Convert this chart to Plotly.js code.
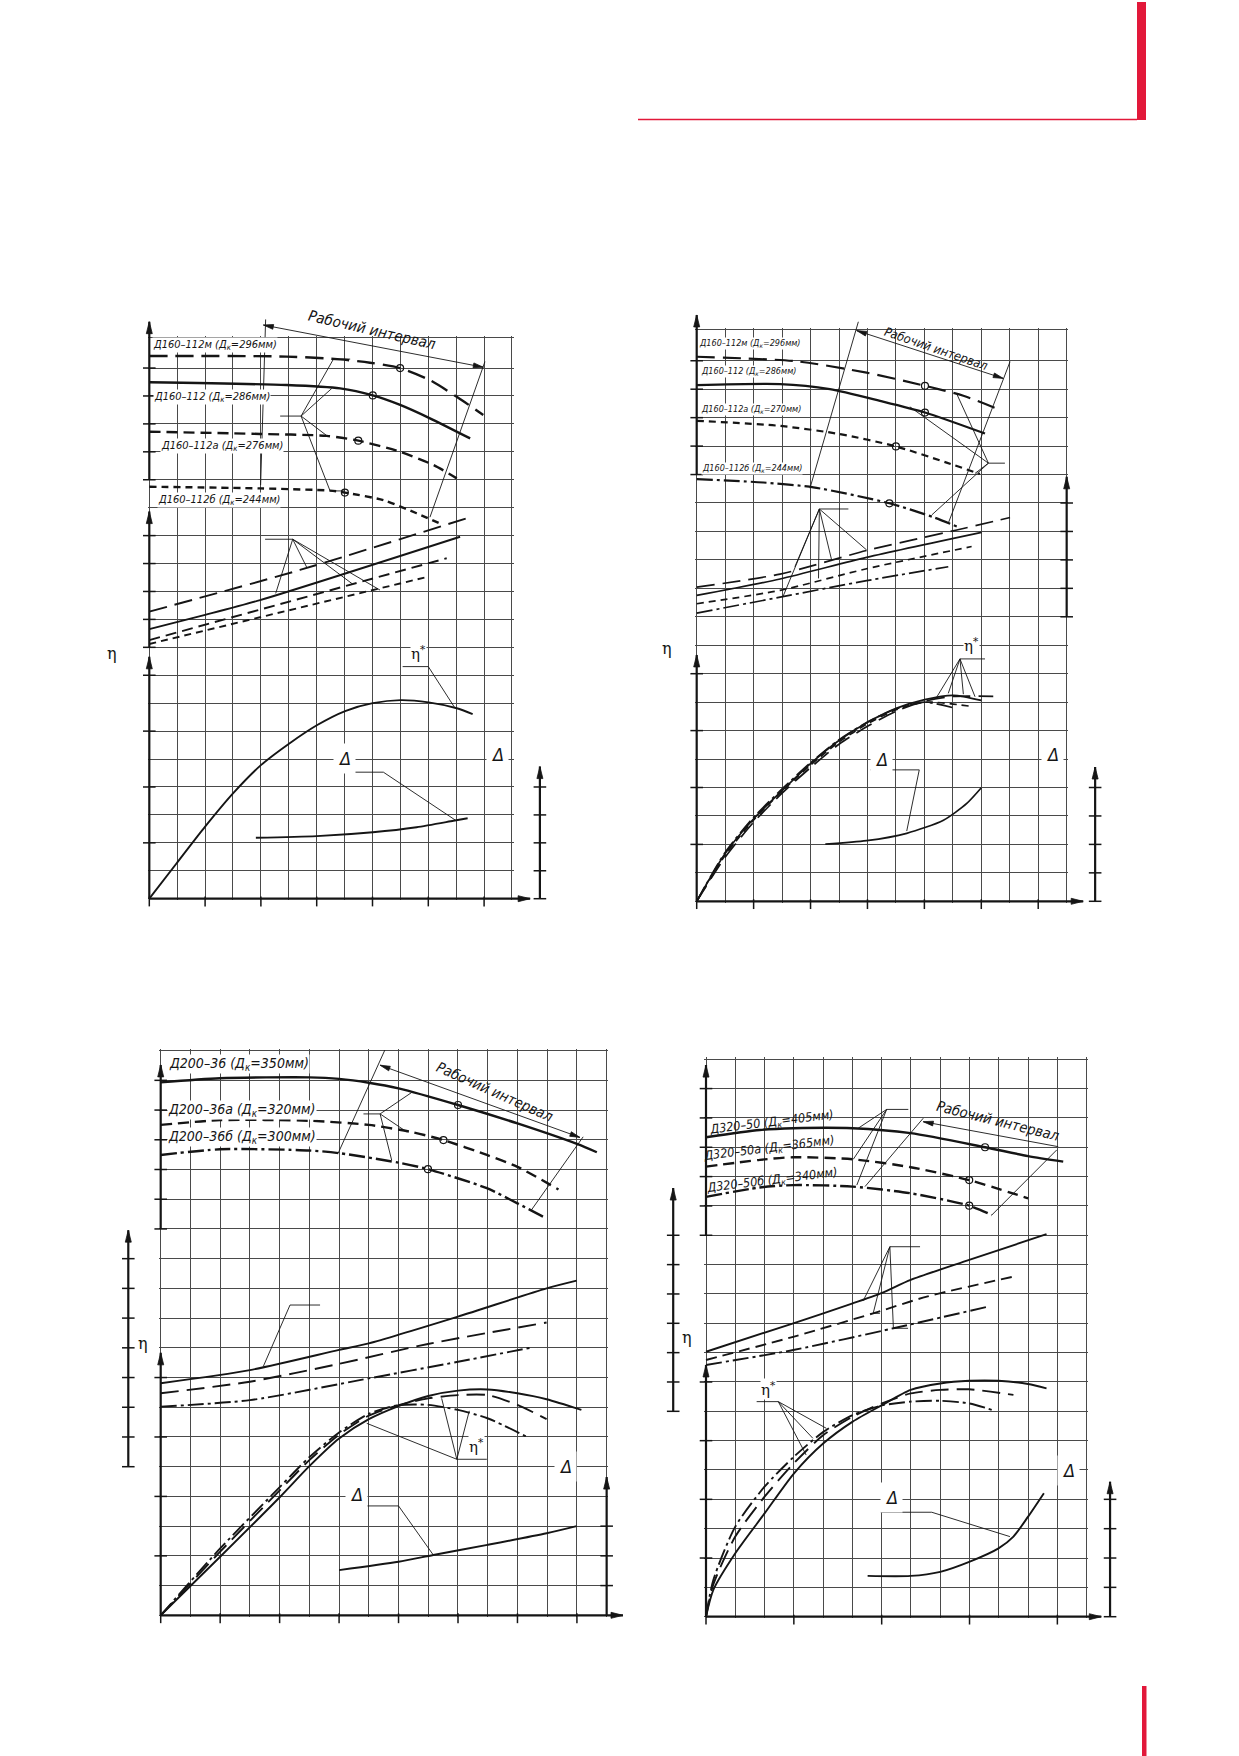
<!DOCTYPE html>
<html><head><meta charset="utf-8">
<script src="https://cdn.plot.ly/plotly-3.0.1.min.js"></script>
<style>html,body{margin:0;padding:0;background:#fff}#chart{width:1239px;height:1756px}</style>
</head><body><div id="chart"></div>
<script>
// ================= DATA (values in grid-cell units) =================
// ---- Panel 1 (top-left): Д160-112 ----
const P1_names = ['Д160–112м (Д<sub>к</sub>=296мм)','Д160–112 (Д<sub>к</sub>=286мм)','Д160–112а (Д<sub>к</sub>=276мм)','Д160–112б (Д<sub>к</sub>=244мм)'];
const P1_nameX = [0.09, 0.13, 0.38, 0.28];
const P1_nameY = [19.82, 17.97, 16.22, 14.28];
const P1_H_q = [[0,4.92,6.84,7.91,8.98,10.05,11.02,11.97],[0,4.92,6.84,8.01,8.99,10.06,11.5],[0,3.97,6.36,7.49,8.99,10.18,11.02],[0,3.97,6.48,7.01,8.39,9.58,10.54]];
const P1_H   = [[19.43,19.41,19.31,19.19,19.0,18.57,17.97,17.32],[18.49,18.39,18.27,18.02,17.68,17.2,16.48],[16.72,16.64,16.57,16.4,16.0,15.53,15.05],[14.75,14.69,14.61,14.54,14.27,13.8,13.38]];
const P1_op_q = [8.99, 8.01, 7.49, 7.01];
const P1_op_H = [19.0, 18.02, 16.4, 14.54];
const P1_N_q = [[0,5.4,11.5],[0,2.0,3.97,11.14],[0,10.66],[0,10.0]];
const P1_N   = [[10.28,11.77,13.66],[9.65,10.16,10.69,12.96],[9.26,12.19],[9.12,11.53]];
const P1_eta_q = [[0,0.98,2.0,3.0,4.01,5.02,6.02,7.02,8.01,9.01,10.01,11.02,11.59]];
const P1_eta   = [[0,1.27,2.58,3.77,4.79,5.56,6.22,6.72,7.0,7.11,7.03,6.82,6.61]];
const P1_dh_q = [3.82,6.0,8.01,9.58,10.9,11.41];
const P1_dh   = [2.18,2.24,2.38,2.56,2.79,2.88];

// ---- Panel 2 (top-right): Д160-112 ----
const P2_names = ['Д160–112м (Д<sub>к</sub>=296мм)','Д160–112 (Д<sub>к</sub>=286мм)','Д160–112а (Д<sub>к</sub>=270мм)','Д160–112б (Д<sub>к</sub>=244мм)'];
const P2_nameX = [0.06, 0.12, 0.12, 0.14];
const P2_nameY = [19.59, 18.62, 17.27, 15.22];
const P2_H_q = [[0,3.51,5.97,8.02,9.37,10.54],[0,2.93,4.68,6.44,8.02,10.13],[0,2.93,5.04,7.0,8.78,9.95],[0,2.34,4.1,6.77,8.32,9.14]];
const P2_H   = [[19.14,18.98,18.58,18.12,17.77,17.32],[18.14,18.18,18.0,17.59,17.18,16.44],[16.89,16.71,16.42,15.99,15.42,15.02],[14.84,14.72,14.55,13.99,13.5,13.17]];
const P2_op_q = [8.02, 8.02, 7.0, 6.77];
const P2_op_H = [18.12, 17.18, 15.99, 13.99];
const P2_N_q = [[0,2.93,5.97,9.14,11.01],[0,2.93,5.97,10.01],[0,2.93,5.97,9.66],[0,2.93,5.97,8.84]];
const P2_N   = [[11.04,11.5,12.33,13.05,13.49],[10.75,11.33,12.09,12.97],[10.46,10.93,11.69,12.47],[10.13,10.69,11.27,11.76]];
const P2_eta_q = [[0,1.0,2.01,3.02,4.0,5.01,6.02,7.03,8.01,9.02,10.0],[0,1,2,3,4,5,6,7,8,9,10.42],[0,1,2,3,4,5,6,7,8,9.66],[0,1,2,3,4,5,6,7,8,9.02]];
const P2_eta   = [[0,1.68,2.91,3.91,4.84,5.66,6.3,6.79,7.09,7.24,7.06],[0,1.55,2.78,3.8,4.7,5.52,6.15,6.68,7.03,7.2,7.2],[0,1.62,2.86,3.87,4.79,5.6,6.24,6.73,7.0,6.85],[0,1.72,2.95,3.95,4.87,5.68,6.3,6.76,7.0,6.8]];
const P2_dh_q = [4.52,5.97,7.38,8.67,9.49,10.0];
const P2_dh   = [2.01,2.13,2.39,2.85,3.44,3.99];

// ---- Panel 3 (bottom-left): Д200-36 ----
const P3_names = ['Д200–36 (Д<sub>к</sub>=350мм)','Д200–36а (Д<sub>к</sub>=320мм)','Д200–36б (Д<sub>к</sub>=300мм)'];
const P3_nameX = [0.26, 0.2, 0.2];
const P3_nameY = [18.55, 17.0, 16.08];
const P3_H_q = [[0,2.0,5.0,6.0,7.0,8.0,10.0,12.0,14.0,14.67],[0,2.0,5.0,7.0,8.39,9.51,10.97,12.0,13.38],[0,2.0,5.0,6.0,8.0,8.99,10.97,12.0,12.87]];
const P3_H   = [[17.93,18.07,18.1,18.05,17.92,17.73,17.17,16.55,15.86,15.58],[16.5,16.66,16.64,16.5,16.27,15.99,15.49,15.09,14.33],[15.49,15.68,15.64,15.55,15.23,15.01,14.37,13.86,13.41]];
const P3_op_q = [10.0, 9.51, 8.99];
const P3_op_H = [17.17, 15.99, 15.01];
const P3_N_q = [[0,3.0,6.0,7.0,10.0,12.98,13.99],[0,3.0,6.0,8.99,12.98],[0,3.0,7.0,10.0,12.53]];
const P3_N   = [[7.81,8.25,8.93,9.15,10.05,11.0,11.26],[7.47,7.86,8.46,9.13,9.85],[7.02,7.24,7.97,8.53,9.02]];
const P3_eta_q = [[0,2.0,4.02,5.0,6.0,7.0,8.0,9.0,10.0,10.99,12.0,12.98,14.15],[0,2.0,4.02,5.0,6.0,7.0,8.0,9.0,10.0,11.0,12.0,12.98],[0,2.0,4.02,5.0,6.0,7.0,8.0,9.0,10.0,10.99,12.35]];
const P3_eta   = [[0,1.97,3.99,5.02,5.95,6.6,7.04,7.38,7.56,7.6,7.47,7.27,6.91],[0,2.14,4.22,5.22,6.08,6.72,7.07,7.3,7.41,7.41,7.08,6.6],[0,2.25,4.33,5.32,6.15,6.78,7.07,7.08,6.91,6.63,5.99]];
const P3_dh_q = [6.0,8.0,9.17,10.99,12.98,13.99];
const P3_dh   = [1.52,1.8,2.03,2.37,2.76,3.0];

// ---- Panel 4 (bottom-right): Д320-50 ----
const P4_names = ['Д320–50 (Д<sub>к</sub>=405мм)','Д320–50а (Д<sub>к</sub>=365мм)','Д320–50б (Д<sub>к</sub>=340мм)'];
const P4_nameX = [2.24, 2.15, 2.26];
const P4_nameY = [16.86, 15.95, 14.88];
const P4_H_q = [[0,1.84,2.98,5.01,6.99,9.53,11.0,12.2],[0,1.84,2.98,5.01,6.99,8.99,11.0],[0,1.84,2.98,5.01,6.99,8.99,9.76]];
const P4_H   = [[16.34,16.59,16.65,16.65,16.48,16.0,15.7,15.51],[15.34,15.57,15.66,15.59,15.32,14.88,14.26],[14.31,14.63,14.71,14.66,14.43,14.01,13.69]];
const P4_op_q = [9.53, 8.99, 8.99];
const P4_op_H = [16.0, 14.88, 14.01];
const P4_N_q = [[0,2.98,5.01,6.01,6.99,8.99,11.63],[0,2.98,5.71,7.54,10.5],[0,2.98,6.4,9.64]];
const P4_N   = [[9.03,10.0,10.68,11.04,11.48,12.16,13.04],[8.75,9.54,10.34,10.91,11.59],[8.58,9.09,9.83,10.57]];
const P4_eta_q = [[0,0.25,1.0,2.0,3.0,4.01,5.01,6.01,6.99,8.0,8.99,9.99,11.0,11.63],[0,0.25,1.0,2.0,3.0,4.01,5.01,6.01,6.99,8.0,8.99,10.5],[0,0.25,1.0,2.0,3.0,4.01,5.01,6.01,6.99,8.0,8.99,9.76]];
const P4_eta   = [[0,0.91,2.16,3.52,4.88,5.91,6.65,7.21,7.73,7.95,8.04,8.04,7.93,7.78],[0,1.1,2.73,4.09,5.23,6.19,6.82,7.27,7.61,7.73,7.75,7.56],[0,1.25,3.07,4.43,5.45,6.3,6.87,7.2,7.33,7.36,7.27,7.05]];
const P4_dh_q = [5.52,6.99,8.0,8.99,9.99,10.5,11.0,11.54];
const P4_dh   = [1.39,1.39,1.53,1.87,2.33,2.73,3.41,4.21];

// ---- leader lines / callouts (grid units) ----
const P1_leaders = [
 [[4.69,17.28],[5.44,17.28],[6.6,19.32],[7.2,19.32]],[[5.44,17.28],[6.54,18.27]],[[5.44,17.28],[6.36,16.58]],[[5.44,17.28],[6.48,14.6],[7.01,14.6]],
 [[4.15,12.87],[5.14,12.87],[4.53,10.93]],[[5.14,12.87],[5.64,11.87]],[[5.14,12.87],[7.28,11.27]],[[5.14,12.87],[8.27,11.05]],
 [[4.17,20.74],[3.99,14.81]],[[12.03,19.23],[10.06,13.66]],
 [[9.08,8.31],[10.0,8.31],[10.96,6.82]],[[6.66,4.53],[8.39,4.53],[10.96,2.82]]];
const P2_leaders = [
 [[10.83,15.4],[10.25,15.4],[9.14,17.83]],[[10.25,15.4],[7.49,17.38]],[[10.25,15.4],[9.78,15.04]],[[10.25,15.4],[8.26,13.58]],
 [[5.33,13.79],[4.31,13.79],[3.04,10.73]],[[4.31,13.79],[3.45,11.76]],[[4.31,13.79],[4.28,11.35]],[[4.31,13.79],[4.74,12.0]],[[4.31,13.79],[5.97,12.35]],
 [[5.68,20.37],[3.98,14.52]],[[11.01,18.97],[8.84,13.29]],
 [[10.13,8.52],[9.25,8.52],[8.43,7.17]],[[9.25,8.52],[8.84,7.31]],[[9.25,8.52],[9.37,7.28]],[[9.25,8.52],[9.78,7.19]],
 [[6.11,4.62],[7.82,4.62],[7.38,2.47]]];
const P3_leaders = [
 [[6.82,16.87],[7.38,16.87],[8.44,17.59]],[[7.38,16.87],[8.27,16.27]],[[7.38,16.87],[7.77,15.31]],
 [[5.36,10.44],[4.35,10.44],[3.45,8.37]],
 [[7.54,19.02],[5.97,15.55]],[[14.21,16.1],[12.45,13.61]],
 [[10.97,5.25],[9.96,5.25],[6.93,6.46]],[[9.96,5.25],[9.45,7.3]],[[9.96,5.25],[10.38,6.88]],
 [[6.26,3.68],[8.0,3.68],[9.17,2.03]]];
const P4_leaders = [
 [[6.91,17.29],[6.17,17.29],[5.2,16.65]],[[6.17,17.29],[5.03,15.59]],[[6.17,17.29],[5.15,14.71]],
 [[7.31,12.61],[6.28,12.61],[5.37,10.77]],[[6.28,12.61],[5.71,10.34],[5.94,10.34]],[[6.28,12.61],[6.4,9.83],[6.9,9.83]],
 [[7.42,16.99],[5.43,14.66]],[[11.98,15.91],[9.76,13.69]],
 [[1.73,7.33],[2.47,7.33],[4.11,6.42]],[[2.47,7.33],[3.65,6.08]],[[2.47,7.33],[3.42,5.51]],
 [[5.97,3.56],[7.71,3.56],[10.38,2.73]]];

// working-interval arrows, label anchors
const P1_wi = [[4.09,20.54],[11.97,19.03]]; const P1_wiText = [7.97,20.36];
const P2_wi = [[5.62,20.06],[10.77,18.38]]; const P2_wiText = [8.41,19.44];
const P3_wi = [[7.38,18.51],[14.1,16.08]];  const P3_wiText = [11.25,17.62];
const P4_wi = [[12.03,16.02],[7.42,16.87]]; const P4_wiText = [9.98,16.9];
const P1_etaStar = [9.64,8.79];  const P1_delta = [[7.01,5.03],[12.47,5.15]]; const P1_etaLbl = [-1.35,8.79];
const P2_etaStar = [9.66,9.01];  const P2_delta = [[6.5,5.0],[12.51,5.17]];   const P2_etaLbl = [-1.05,8.89];
const P3_etaStar = [10.63,5.7];  const P3_delta = [[6.59,4.08],[13.63,5.02]]; const P3_etaLbl = [-0.6,9.16];
const P4_etaStar = [2.13,7.75];  const P4_delta = [[6.34,4.07],[12.37,5.0]];  const P4_etaLbl = [-0.66,9.53];

// scale axes: [x position, from, arrow tip, tick positions]
const P1_axes = [[0,15,20.66,[15,16,17,18,19]],[0,9,13.86,[9,10,11,12,13]],[0,0,8.66,[2,4,6,8]],[14.0,0,4.73,[0,1,2,3,4]]];
const P2_axes = [[0,15,20.61,[15,16,17,18,19]],[0,0,8.66,[2,4,6,8]],[13.0,10,14.92,[10,11,12,13,14]],[14.0,0,4.72,[0,1,2,3,4]]];
const P3_axes = [[0,13,18.52,[13,14,15,16,17,18]],[-1.09,5,12.96,[5,6,7,8,9,10,11,12]],[0,0,8.83,[2,4,6,8]],[15.0,0,4.65,[1,2,3]]];
const P4_axes = [[0,13,18.8,[13,14,15,16,17,18]],[-1.12,7,14.61,[7,8,9,10,11,12,13]],[0,0,8.58,[2,4,6,8]],[13.8,0,4.6,[0,1,2,3,4]]];
const P1_xTicks = [0,2,4,6,8,10,12];
const P2_xTicks = [0,2,4,6,8,10,12];
const P3_xTicks = [0,2,4,6,8,10,12,14];
const P4_xTicks = [0,3,6,9,12];

// ================= STYLE / GEOMETRY =================
const W = 1239, H = 1756;
const INK = '#151515', GRID = '#4a4a4a';
const NARROW = "'DejaVu Sans Condensed', 'DejaVu Sans', sans-serif";
const SERIF = "'DejaVu Serif', 'Liberation Serif', serif";
const DASH = {solid:'solid', long:'18px,8px', med:'11px,6px', short:'7px,5px', dashdot:'16px,4px,3px,4px'};

const PANELS = [
 {m:'',  f:'5', x0:149.3, sx:27.9,  nx:13, yb:898.7,  sy:27.93, yt:20.1, nameFs:11,  wiFs:15, wiAng:13, xEnd:13.65, lw:2.2,
  names:P1_names, nameX:P1_nameX, nameY:P1_nameY, nameAnchor:'left', nameAng:0, nameBg:true,
  Hq:P1_H_q, Hv:P1_H, Hs:['long','solid','med','short'], opq:P1_op_q, opH:P1_op_H,
  Nq:P1_N_q, Nv:P1_N, Ns:['long','solid','med','short'], Eq:P1_eta_q, Ev:P1_eta, Es:['solid'], Dq:P1_dh_q, Dv:P1_dh,
  leaders:P1_leaders, wi:P1_wi, wiBoth:true, wiText:P1_wiText, etaStar:P1_etaStar, delta:P1_delta, etaLbl:P1_etaLbl, axes:P1_axes, xTicks:P1_xTicks},
 {m:'2', f:'6', x0:696.7, sx:28.46, nx:13, yb:901.3,  sy:28.45, yt:20.1, nameFs:9, wiFs:12.5, wiAng:19, xEnd:13.58, lw:2.0,
  names:P2_names, nameX:P2_nameX, nameY:P2_nameY, nameAnchor:'left', nameAng:0, nameBg:true,
  Hq:P2_H_q, Hv:P2_H, Hs:['long','solid','short','dashdot'], opq:P2_op_q, opH:P2_op_H,
  Nq:P2_N_q, Nv:P2_N, Ns:['long','solid','short','dashdot'], Eq:P2_eta_q, Ev:P2_eta, Es:['solid','long','short','dashdot'], Dq:P2_dh_q, Dv:P2_dh,
  leaders:P2_leaders, wi:P2_wi, wiBoth:true, wiText:P2_wiText, etaStar:P2_etaStar, delta:P2_delta, etaLbl:P2_etaLbl, axes:P2_axes, xTicks:P2_xTicks},
 {m:'3', f:'7', x0:160.7, sx:29.73, nx:15, yb:1615.3, sy:29.72, yt:19,   nameFs:14,  wiFs:14.5, wiAng:24, xEnd:15.55, lw:2.2,
  names:P3_names, nameX:P3_nameX, nameY:P3_nameY, nameAnchor:'left', nameAng:0, nameBg:true,
  Hq:P3_H_q, Hv:P3_H, Hs:['solid','med','dashdot'], opq:P3_op_q, opH:P3_op_H,
  Nq:P3_N_q, Nv:P3_N, Ns:['solid','long','dashdot'], Eq:P3_eta_q, Ev:P3_eta, Es:['solid','long','dashdot'], Dq:P3_dh_q, Dv:P3_dh,
  leaders:P3_leaders, wi:P3_wi, wiBoth:true, wiText:P3_wiText, etaStar:P3_etaStar, delta:P3_delta, etaLbl:P3_etaLbl, axes:P3_axes, xTicks:P3_xTicks},
 {m:'4', f:'8', x0:706,   sx:29.28, nx:13, yb:1616.7, sy:29.34, yt:19,   nameFs:12.5, wiFs:14.5, wiAng:14, xEnd:13.5, lw:2.2,
  names:P4_names, nameX:P4_nameX, nameY:P4_nameY, nameAnchor:'center', nameAng:-7, nameBg:false,
  Hq:P4_H_q, Hv:P4_H, Hs:['solid','med','dashdot'], opq:P4_op_q, opH:P4_op_H,
  Nq:P4_N_q, Nv:P4_N, Ns:['solid','med','dashdot'], Eq:P4_eta_q, Ev:P4_eta, Es:['solid','long','dashdot'], Dq:P4_dh_q, Dv:P4_dh,
  leaders:P4_leaders, wi:P4_wi, wiBoth:false, wiText:P4_wiText, etaStar:P4_etaStar, delta:P4_delta, etaLbl:P4_etaLbl, axes:P4_axes, xTicks:P4_xTicks}
];

const traces = [], labels = [];
const layout = {
  width: W, height: H, margin: {l:0, r:0, t:0, b:0},
  paper_bgcolor: '#ffffff', plot_bgcolor: 'rgba(0,0,0,0)', showlegend: false,
  annotations: [], shapes: []
};

function xdom(p, lo, hi){ return [(p.x0 + lo*p.sx)/W, (p.x0 + hi*p.sx)/W]; }
function ydom(p, lo, hi){ return [1 - (p.yb - lo*p.sy)/H, 1 - (p.yb - hi*p.sy)/H]; }

function curve(p, xs, ys, style, w){
  traces.push({type:'scatter', mode:'lines', x:xs, y:ys, xaxis:'x'+p.m, yaxis:'y'+p.m,
    line:{color:INK, width:w, dash:DASH[style], shape:'spline', smoothing:0.7}, hoverinfo:'skip', showlegend:false});
}
function polyTrace(p, polys, w){
  const xs = [], ys = [];
  polys.forEach(pl => { pl.forEach(pt => { xs.push(pt[0]); ys.push(pt[1]); }); xs.push(null); ys.push(null); });
  traces.push({type:'scatter', mode:'lines', x:xs, y:ys, xaxis:'x'+p.f, yaxis:'y'+p.f,
    line:{color:INK, width:w}, connectgaps:false, hoverinfo:'skip', showlegend:false});
}
function headTrace(p, pairs, len, half){
  const xs = [], ys = [];
  pairs.forEach(pr => {
    const from = pr[0], to = pr[1];
    const dx = (to[0]-from[0])*p.sx, dy = (to[1]-from[1])*p.sy;
    const L = Math.hypot(dx, dy), ux = dx/L, uy = dy/L;
    const bx = -ux*len, by = -uy*len, nx = -uy*half, ny = ux*half;
    xs.push(to[0], to[0]+(bx+nx)/p.sx, to[0]+(bx-nx)/p.sx, to[0], null);
    ys.push(to[1], to[1]+(by+ny)/p.sy, to[1]+(by-ny)/p.sy, to[1], null);
  });
  traces.push({type:'scatter', mode:'lines', x:xs, y:ys, xaxis:'x'+p.f, yaxis:'y'+p.f, fill:'toself', fillcolor:INK,
    line:{color:INK, width:0.8}, connectgaps:false, hoverinfo:'skip', showlegend:false});
}
function text(p, x, y, t, font, opt){
  labels.push(Object.assign({xref:'x'+p.f, yref:'y'+p.f, x:x, y:y, text:t, showarrow:false,
    font:font, xanchor:'center', yanchor:'middle', borderpad:0}, opt||{}));
}

PANELS.forEach(p => {
  const rows = []; for(let k=0; k < p.yt - 0.5; k++) rows.push(k); rows.push(p.yt);
  layout['xaxis'+p.m] = {domain:xdom(p,-0.06,p.nx+0.06), range:[-0.06,p.nx+0.06], anchor:'y'+p.m,
    tickmode:'linear', tick0:0, dtick:1, showgrid:true, gridcolor:GRID, gridwidth:1,
    ticks:'', showticklabels:false, zeroline:false, showline:false, fixedrange:true};
  layout['yaxis'+p.m] = {domain:ydom(p,-0.06,p.yt+0.06), range:[-0.06,p.yt+0.06], anchor:'x'+p.m,
    tickmode:'array', tickvals:rows, showgrid:true, gridcolor:GRID, gridwidth:1,
    ticks:'', showticklabels:false, zeroline:false, showline:false, fixedrange:true};
  layout['xaxis'+p.f] = {domain:xdom(p,-2.2,p.nx+1.8), range:[-2.2,p.nx+1.8], anchor:'y'+p.f, visible:false, fixedrange:true};
  layout['yaxis'+p.f] = {domain:ydom(p,-1,p.yt+1.5), range:[-1,p.yt+1.5], anchor:'x'+p.f, visible:false, fixedrange:true};

  p.Hq.forEach((q,i) => curve(p, q, p.Hv[i], p.Hs[i], p.lw+0.2));
  p.Nq.forEach((q,i) => curve(p, q, p.Nv[i], p.Ns[i], p.lw-0.3));
  p.Eq.forEach((q,i) => curve(p, q, p.Ev[i], p.Es[i], p.lw-0.3));
  curve(p, p.Dq, p.Dv, 'solid', p.lw-0.3);
  traces.push({type:'scatter', mode:'markers', x:p.opq, y:p.opH, xaxis:'x'+p.m, yaxis:'y'+p.m,
    marker:{symbol:'circle-open', size:7, color:INK, line:{width:1.2, color:INK}}, hoverinfo:'skip', showlegend:false});

  const axLines = [[[0,0],[p.xEnd,0]]];
  const tx = [], ty = [];
  p.axes.forEach(a => {
    axLines.push([[a[0],a[1]],[a[0],a[2]]]);
    a[3].forEach(v => { tx.push(a[0]); ty.push(v); });
  });
  polyTrace(p, axLines, 2.2);
  headTrace(p, axLines, 12, 3);
  traces.push({type:'scatter', mode:'markers', x:tx, y:ty, xaxis:'x'+p.f, yaxis:'y'+p.f, cliponaxis:false,
    marker:{symbol:'line-ew', size:9, line:{width:1.5, color:INK}}, hoverinfo:'skip', showlegend:false});
  traces.push({type:'scatter', mode:'markers', x:p.xTicks, y:p.xTicks.map(()=>-0.1), xaxis:'x'+p.f, yaxis:'y'+p.f, cliponaxis:false,
    marker:{symbol:'line-ns', size:7, line:{width:1.5, color:INK}}, hoverinfo:'skip', showlegend:false});

  polyTrace(p, p.leaders.concat([p.wi]), 0.9);
  headTrace(p, p.wiBoth ? [[p.wi[0],p.wi[1]],[p.wi[1],p.wi[0]]] : [[p.wi[0],p.wi[1]]], 10, 2.4);

  const nf = {family:NARROW, size:p.nameFs, color:INK};
  p.names.forEach((t,i) => text(p, p.nameX[i], p.nameY[i], '<i>' + t + '</i>', nf,
    {xanchor:p.nameAnchor, textangle:p.nameAng, bgcolor:p.nameBg ? '#ffffff' : 'rgba(0,0,0,0)'}));
  text(p, p.wiText[0], p.wiText[1], '<i>Рабочий интервал</i>', {family:NARROW, size:p.wiFs, color:INK}, {textangle:p.wiAng});
  text(p, p.etaLbl[0], p.etaLbl[1], 'η', {family:SERIF, size:16, color:INK});
  text(p, p.etaStar[0], p.etaStar[1], 'η<sup>*</sup>', {family:SERIF, size:15, color:INK}, {bgcolor:'#ffffff'});
  p.delta.forEach(d => text(p, d[0], d[1], '<i>Δ</i>', {family:NARROW, size:18, color:INK}, {bgcolor:'#ffffff', borderpad:4}));
});

layout.annotations = labels;

const RED = '#e2183a';
layout.shapes = [
  {type:'rect', xref:'paper', yref:'paper', x0:1137/W, x1:1146/W, y0:1-120/H, y1:1-2/H, fillcolor:RED, line:{width:0}},
  {type:'line', xref:'paper', yref:'paper', x0:638/W, x1:1137/W, y0:1-119.5/H, y1:1-119.5/H, line:{color:RED, width:1.4}},
  {type:'rect', xref:'paper', yref:'paper', x0:1142/W, x1:1146.5/W, y0:0, y1:1-1686/H, fillcolor:RED, line:{width:0}}
];

Plotly.newPlot('chart', traces, layout, {staticPlot:true, displayModeBar:false});
</script>
</body></html>
